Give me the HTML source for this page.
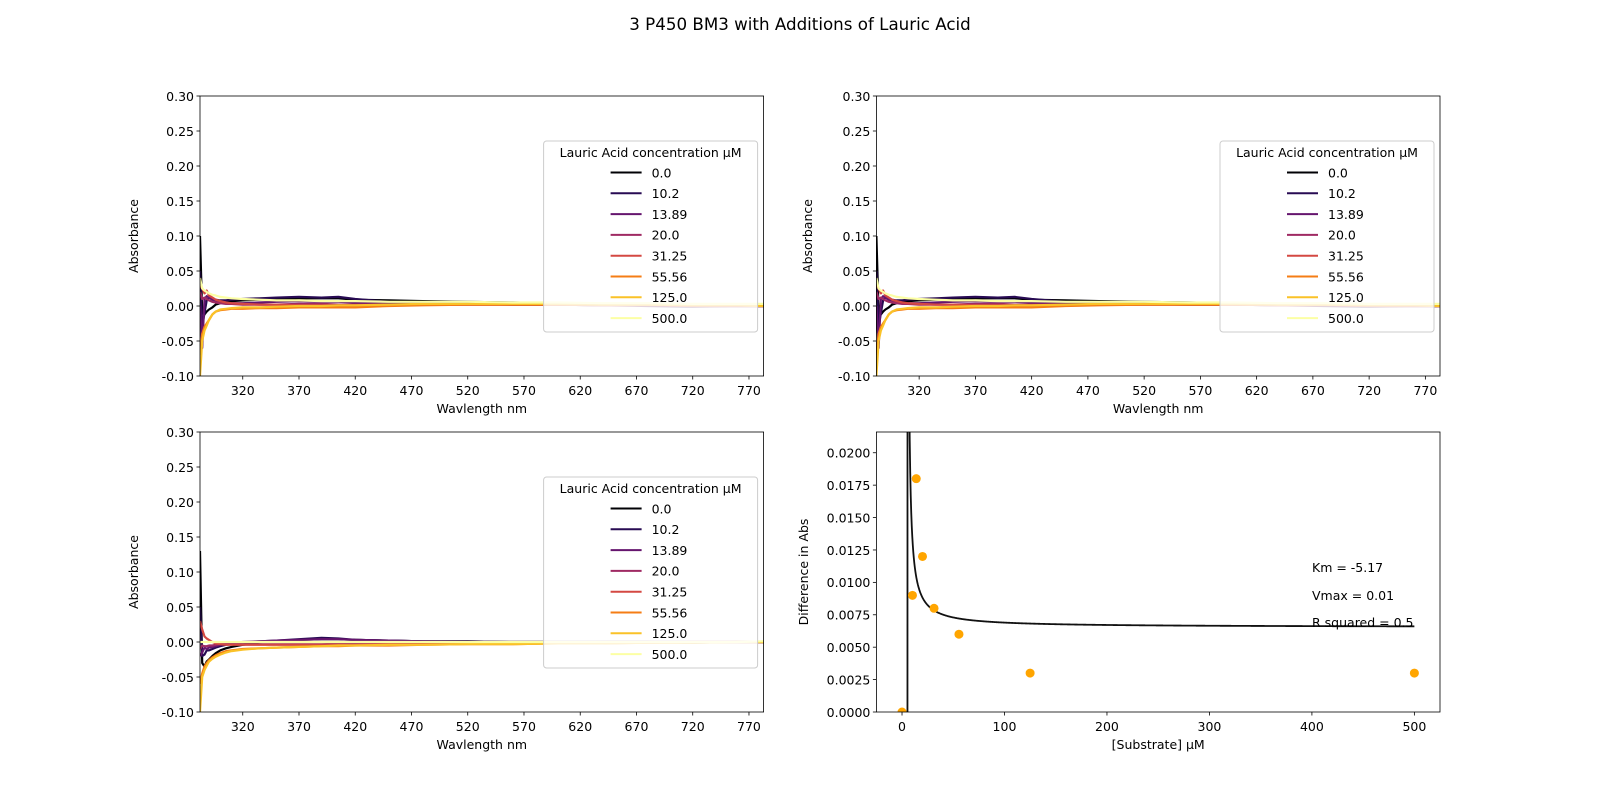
<!DOCTYPE html>
<html><head><meta charset="utf-8"><style>
html,body{margin:0;padding:0;background:#fff;width:1600px;height:800px;overflow:hidden}
svg{display:block;position:absolute;left:0;top:0}
svg text{font-family:"DejaVu Sans","Liberation Sans",sans-serif;fill:#000}
</style></head><body>
<svg id="fig" width="1600" height="800" viewBox="0 0 1600 800" xmlns="http://www.w3.org/2000/svg">
<text x="800" y="30" font-size="16.7" text-anchor="middle">3 P450 BM3 with Additions of Lauric Acid</text>
</svg>
<script>
const concLabels=["0.0","10.2","13.89","20.0","31.25","55.56","125.0","500.0"];
const seriesColors=["#000004","#280b53","#65156e","#9f2a63","#d44842","#f57d15","#fac228","#fcffa4"];
const wavelengths=[282,284,286,288,290,293,296,300,305,310,320,335,350,370,390,405,420,450,480,520,560,600,640,680,720,760,783];
// panel A / B spectra (Absorbance)
const specA=[
[0.10,-0.01,-0.012,-0.008,-0.005,-0.002,0.002,0.004,0.006,0.007,0.008,0.009,0.010,0.011,0.011,0.011,0.009,0.008,0.007,0.006,0.005,0.004,0.003,0.002,0.001,0.000,0.000],
[0.05,-0.03,-0.01,0.008,0.012,0.010,0.009,0.008,0.008,0.009,0.010,0.011,0.012,0.013,0.012,0.013,0.010,0.006,0.004,0.003,0.002,0.002,0.001,0.000,-0.001,0.000,0.000],
[0.00,-0.06,0.010,0.014,0.012,0.009,0.007,0.005,0.004,0.004,0.004,0.005,0.006,0.007,0.006,0.006,0.005,0.004,0.003,0.003,0.002,0.002,0.001,0.001,0.000,0.000,0.000],
[0.02,0.010,0.012,0.010,0.008,0.006,0.005,0.004,0.003,0.003,0.002,0.002,0.002,0.003,0.003,0.002,0.002,0.002,0.002,0.002,0.002,0.002,0.001,0.001,0.000,0.000,0.000],
[0.03,0.025,0.018,0.022,0.015,0.012,0.009,0.007,0.005,0.004,0.003,0.002,0.002,0.001,0.001,0.001,0.001,0.002,0.002,0.002,0.002,0.002,0.001,0.001,0.000,0.000,0.000],
[-0.07,-0.04,-0.03,-0.025,-0.02,-0.012,-0.008,-0.006,-0.005,-0.004,-0.004,-0.003,-0.003,-0.002,-0.002,-0.002,-0.002,0.000,0.001,0.002,0.002,0.002,0.002,0.002,0.001,0.001,0.000],
[-0.10,-0.05,-0.035,-0.028,-0.02,-0.012,-0.008,-0.005,-0.004,-0.003,-0.002,-0.002,-0.001,0.000,0.000,0.001,0.001,0.002,0.003,0.003,0.003,0.003,0.002,0.002,0.001,0.001,0.000],
[0.04,0.025,0.022,0.020,0.018,0.016,0.015,0.013,0.012,0.011,0.010,0.009,0.008,0.008,0.007,0.007,0.007,0.006,0.006,0.006,0.005,0.005,0.004,0.004,0.003,0.003,0.003]];
// panel C spectra
const specC=[
[0.13,-0.03,-0.035,-0.028,-0.025,-0.02,-0.016,-0.012,-0.009,-0.007,-0.004,-0.001,0.001,0.003,0.004,0.004,0.003,0.002,0.001,0.001,0.000,0.000,0.000,0.000,-0.001,0.000,0.000],
[0.05,-0.02,-0.018,-0.012,-0.012,-0.010,-0.008,-0.006,-0.004,-0.003,-0.001,0.001,0.002,0.004,0.006,0.005,0.003,0.002,0.001,0.001,0.000,0.000,0.000,0.000,0.000,0.000,0.000],
[-0.02,-0.015,-0.008,-0.010,-0.008,-0.007,-0.006,-0.004,-0.003,-0.002,0.000,0.001,0.002,0.003,0.004,0.004,0.003,0.002,0.001,0.000,0.000,0.000,0.000,0.000,0.000,0.000,0.000],
[-0.01,-0.005,-0.006,-0.006,-0.005,-0.005,-0.004,-0.003,-0.002,-0.002,-0.001,-0.001,-0.001,-0.001,-0.001,-0.002,-0.002,-0.002,-0.002,-0.001,-0.001,-0.001,0.000,0.000,0.000,0.000,0.000],
[0.03,0.018,0.008,0.005,0.003,0.000,-0.002,-0.003,-0.004,-0.004,-0.004,-0.004,-0.004,-0.004,-0.004,-0.004,-0.004,-0.003,-0.003,-0.002,-0.002,-0.001,-0.001,-0.001,0.000,0.000,0.000],
[-0.06,-0.045,-0.035,-0.03,-0.026,-0.022,-0.019,-0.016,-0.013,-0.012,-0.010,-0.009,-0.008,-0.007,-0.006,-0.006,-0.005,-0.005,-0.004,-0.003,-0.003,-0.002,-0.002,-0.001,-0.001,0.000,0.000],
[-0.10,-0.05,-0.04,-0.034,-0.028,-0.024,-0.021,-0.018,-0.015,-0.013,-0.011,-0.009,-0.008,-0.007,-0.006,-0.005,-0.005,-0.004,-0.004,-0.003,-0.003,-0.002,-0.002,-0.001,-0.001,0.000,0.000],
[0.00,0.000,0.000,0.000,0.000,0.000,0.000,0.000,0.000,0.000,0.000,0.000,0.000,0.000,0.000,0.000,0.000,0.000,0.000,0.000,0.000,0.000,0.000,0.000,0.000,0.000,0.001]];
const yTicks=[-0.10,-0.05,0.00,0.05,0.10,0.15,0.20,0.25,0.30];
const xTicks=[320,370,420,470,520,570,620,670,720,770];
// panel D
const substrate=[0,10.2,13.89,20,31.25,55.56,125,500];
const diffAbs=[0,0.009,0.018,0.012,0.008,0.006,0.003,0.003];
const kmVal=-5.17, vmaxVal=0.00654;
const dXTicks=[0,100,200,300,400,500];
const dYTicks=[0,0.0025,0.005,0.0075,0.01,0.0125,0.015,0.0175,0.02];

const FS=13.9;
const NS="http://www.w3.org/2000/svg";
const svg=document.getElementById('fig');
function mk(tag,attrs,parent){const e=document.createElementNS(NS,tag);for(const k in attrs)e.setAttribute(k,attrs[k]);(parent||svg).appendChild(e);return e;}

function axesFrame(L,T,R,B,xs,ys,xt,yt,xfmt,yfmt,xlabel,ylabel,pfx,ylabX){
  const g=mk('g',{});
  
  
  xt.forEach(v=>{const x=xs(v);
    mk('line',{x1:x,x2:x,y1:B,y2:B+3.5,stroke:'#000','stroke-width':0.8},g);
    const tx=mk('text',{x:x,y:B+19,'font-size':FS*0.9,'text-anchor':'middle'},g);tx.textContent=xfmt(v);
    
    });
  yt.forEach(v=>{const y=ys(v);
    mk('line',{x1:L-3.5,x2:L,y1:y,y2:y,stroke:'#000','stroke-width':0.8},g);
    const tx=mk('text',{x:L-6,y:y+4.8,'font-size':FS*0.9,'text-anchor':'end'},g);tx.textContent=yfmt(v);
    
    });
  const xl=mk('text',{x:(L+R)/2,y:B+37,'font-size':FS*0.9,'text-anchor':'middle'},g);xl.textContent=xlabel;
  
  
  const yx=ylabX, yy=(T+B)/2;
  const yl=mk('text',{x:yx,y:yy,'font-size':FS*0.9,'text-anchor':'middle',transform:`rotate(-90 ${yx} ${yy})`},g);yl.textContent=ylabel;
  
  
  return g;
}
let clipN=0;
function spectrumPanel(L,T,R,B,data,pfx,ylabX){
  const xs=v=>L+(v-282)*(R-L)/(783-282);
  const ys=v=>B-(v+0.10)*(B-T)/0.40;
  const id='clip'+(clipN++);
  const cp=mk('clipPath',{id:id});mk('rect',{x:L,y:T,width:R-L,height:B-T},cp);
  const sg=mk('g',{'clip-path':`url(#${id})`});
  
  
  data.forEach((s,i)=>{
    const d=s.map((v,j)=>(j?'L':'M')+xs(wavelengths[j]).toFixed(1)+','+ys(v).toFixed(1)).join('');
    const p=mk('path',{d:d,fill:'none',stroke:seriesColors[i],'stroke-width':2.2,'stroke-linejoin':'round'},sg);
    
    
  });
  mk('rect',{x:L,y:T,width:R-L,height:B-T,fill:'none',stroke:'#000','stroke-width':0.8});
  axesFrame(L,T,R,B,xs,ys,xTicks,yTicks,v=>String(v),v=>v.toFixed(2),'Wavlength nm','Absorbance',pfx,ylabX);
  const lg=mk('g',{});
  
  
  const lx=R-220, ly=T+45;
  mk('rect',{x:lx,y:ly,width:214,height:191,rx:3,fill:'#fff','fill-opacity':0.8,stroke:'#ccc','stroke-width':1},lg);
  const tt=mk('text',{x:lx+107,y:ly+16,'font-size':FS*0.9,'text-anchor':'middle'},lg);tt.textContent='Lauric Acid concentration µM';
  
  
  concLabels.forEach((c,i)=>{const y=ly+31.5+i*20.8;
    const e=mk('g',{},lg);
    
    
    mk('line',{x1:lx+67,x2:lx+98,y1:y,y2:y,stroke:seriesColors[i],'stroke-width':2},e);
    const t=mk('text',{x:lx+108,y:y+4.8,'font-size':FS*0.9},e);t.textContent=c;});
}
spectrumPanel(200,96,763.6,376,specA,'panel-a',138);
spectrumPanel(876.4,96,1440,376,specA,'panel-b',812);
spectrumPanel(200,432,763.6,712,specC,'panel-c',138);

(function(){
  const L=876.4,T=432,R=1440,B=712,pfx='panel-d';
  const xs=v=>L+(v+25)*(R-L)/550;
  const ys=v=>B-v*(B-T)/0.0216;
  const cp=mk('clipPath',{id:'clipD'});mk('rect',{x:L,y:T,width:R-L,height:B-T},cp);
  const cg=mk('g',{'clip-path':'url(#clipD)'});
  let d='';
  for(let i=0;i<=1000;i++){const x=i*0.5;let y=vmaxVal*x/(kmVal+x);
    y=Math.max(-1,Math.min(1,y));d+=(i?'L':'M')+xs(x).toFixed(2)+','+ys(y).toFixed(2);}
  const fit=mk('path',{d:d,fill:'none',stroke:'#111','stroke-width':1.8},cg);
  
  
  substrate.forEach((s,i)=>{const c=mk('circle',{cx:xs(s),cy:ys(diffAbs[i]),r:4.5,fill:'#ffa500'},cg);
    
    });
  mk('rect',{x:L,y:T,width:R-L,height:B-T,fill:'none',stroke:'#000','stroke-width':0.8});
  axesFrame(L,T,R,B,xs,ys,dXTicks,dYTicks,v=>String(v),v=>v.toFixed(4),'[Substrate] µM','Difference in Abs',pfx,808);
  [['Km = -5.17',572],['Vmax = 0.01',600],['R squared = 0.5',627]].forEach(a=>{
    const t=mk('text',{x:1312,y:a[1],'font-size':FS*0.9});t.textContent=a[0];
    
    });
})();
</script>
</body></html>
